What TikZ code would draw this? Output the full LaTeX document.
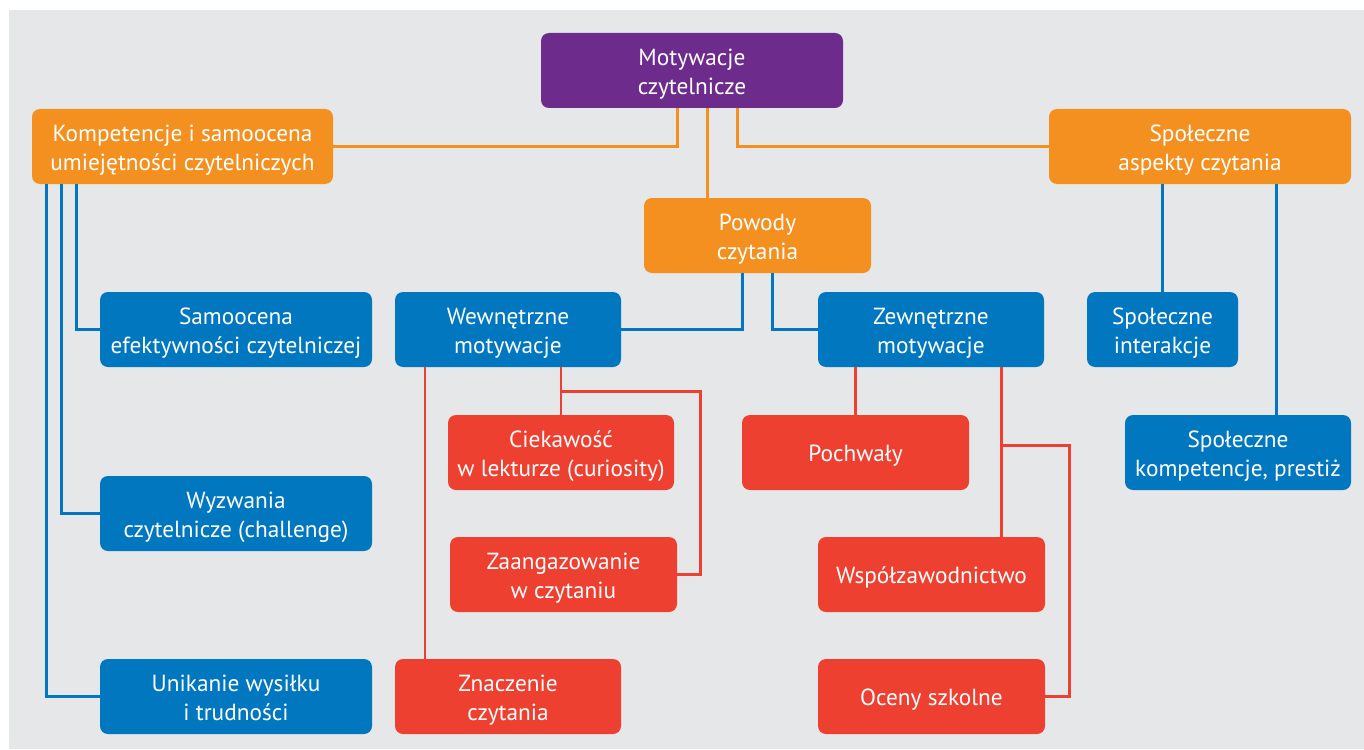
\documentclass[tikz,border=0pt]{standalone}
\usepackage{fontspec}
\setmainfont{PT Sans}
\usetikzlibrary{positioning, calc}
\definecolor{motpurple}{HTML}{6D2C8C}
\definecolor{motorange}{HTML}{F39020}
\definecolor{motblue}{HTML}{0077BF}
\definecolor{motred}{HTML}{EE4030}
\definecolor{motbg}{HTML}{E6E7E9}
\tikzset{
    box/.style={
        rounded corners=8pt,
        minimum height=75pt,
        align=center,
        text=white,
        inner sep=2pt,
        text height=53pt,
        text depth=5pt,
        font=\fontsize{23.3}{29}\selectfont
    },
    oneline/.style={text height=20pt, text depth=3pt},
    topbox/.style={box, fill=motpurple},
    orangebox/.style={box, fill=motorange},
    bluebox/.style={box, fill=motblue},
    redbox/.style={box, fill=motred},
    oline/.style={draw=motorange, line width=3pt},
    bline/.style={draw=motblue, line width=3pt},
    rline/.style={draw=motred, line width=2.6pt}
}

\begin{document}
\begin{tikzpicture}[x=1pt,y=-1pt]
\useasboundingbox (0,0) rectangle (1364,749);
\fill[motbg] (9,10) rectangle (1364,749);

% Top level
\node[topbox, minimum width=302pt] (mot) at (692,70.5) {Motywacje\\czytelnicze};
\node[orangebox, minimum width=301pt] (komp) at (182.5,146.5) {Kompetencje i samoocena\\umiejętności czytelniczych};
\node[orangebox, minimum width=302pt] (spol) at (1200,146.5) {Społeczne\\aspekty czytania};
\node[orangebox, minimum width=227pt] (pow) at (757.5,235.5) {Powody\\czytania};

% Competences
\node[bluebox, minimum width=272pt] (samo) at (236,329.5) {Samoocena\\efektywności czytelniczej};
\node[bluebox, minimum width=272pt] (wyz) at (236,513.5) {Wyzwania\\czytelnicze (challenge)};
\node[bluebox, minimum width=272pt] (unik) at (236,696.5) {Unikanie wysiłku\\i trudności};

% Reasons
\node[bluebox, minimum width=226pt] (wew) at (508,329.5) {Wewnętrzne\\motywacje};
\node[bluebox, minimum width=226pt] (zew) at (931,329.5) {Zewnętrzne\\motywacje};
\node[redbox, minimum width=226pt] (ciek) at (561,452.5) {Ciekawość\\w lekturze (curiosity)};
\node[redbox, minimum width=227pt] (zaang) at (563.5,574.5) {Zaangazowanie\\w czytaniu};
\node[redbox, minimum width=226pt] (znacz) at (508,696.5) {Znaczenie\\czytania};
\node[redbox, oneline, minimum width=227pt] (poch) at (855.5,452.5) {Pochwały};
\node[redbox, oneline, minimum width=227pt] (wspol) at (931.5,574.5) {Współzawodnictwo};
\node[redbox, oneline, minimum width=227pt] (oceny) at (931.5,696.5) {Oceny szkolne};

% Social aspects
\node[bluebox, minimum width=151pt] (inter) at (1162.5,329.5) {Społeczne\\interakcje};
\node[bluebox, minimum width=226pt] (prest) at (1238,452.5) {Społeczne\\kompetencje, prestiż};

% Orange connectors
\draw[oline] ([xshift=-15pt]mot.south) |- (komp.east);
\draw[oline] ([xshift=45pt]mot.south) |- (spol.west);
\draw[oline] ([xshift=15pt]mot.south) -- ([xshift=15pt]mot.south |- pow.north);

% Blue connectors
\draw[bline] ([xshift=45pt]komp.south west) |- (samo.west);
\draw[bline] ([xshift=30pt]komp.south west) |- (wyz.west);
\draw[bline] ([xshift=15pt]komp.south west) |- (unik.west);
\draw[bline] ([xshift=-15pt]pow.south) |- (wew.east);
\draw[bline] ([xshift=15pt]pow.south) |- (zew.west);
\draw[bline] (inter.north) -- (inter.north |- spol.south);
\draw[bline] ([xshift=38pt]prest.north) -- ([xshift=38pt]prest.north |- spol.south);

% Red connectors
\draw[rline] ([xshift=30pt]znacz.north west) -- ([xshift=30pt]wew.south west);
\draw[rline] (ciek.north) -- (ciek.north |- wew.south);
\coordinate (wbranch) at ([yshift=-24pt]wew.south -| ciek.north);
\draw[rline] (wbranch) -| ([xshift=23pt]zaang.east) -- (zaang.east);
\draw[rline] (poch.north) -- (poch.north |- zew.south);
\draw[rline] ([xshift=-44pt]wspol.north east) -- ([xshift=-44pt]wspol.north east |- zew.south);
\coordinate (zbranch) at ([xshift=-44pt,yshift=-78pt]zew.south east);
\draw[rline] (zbranch) -| ([xshift=24pt]oceny.east) -- (oceny.east);
\end{tikzpicture}
\end{document}
